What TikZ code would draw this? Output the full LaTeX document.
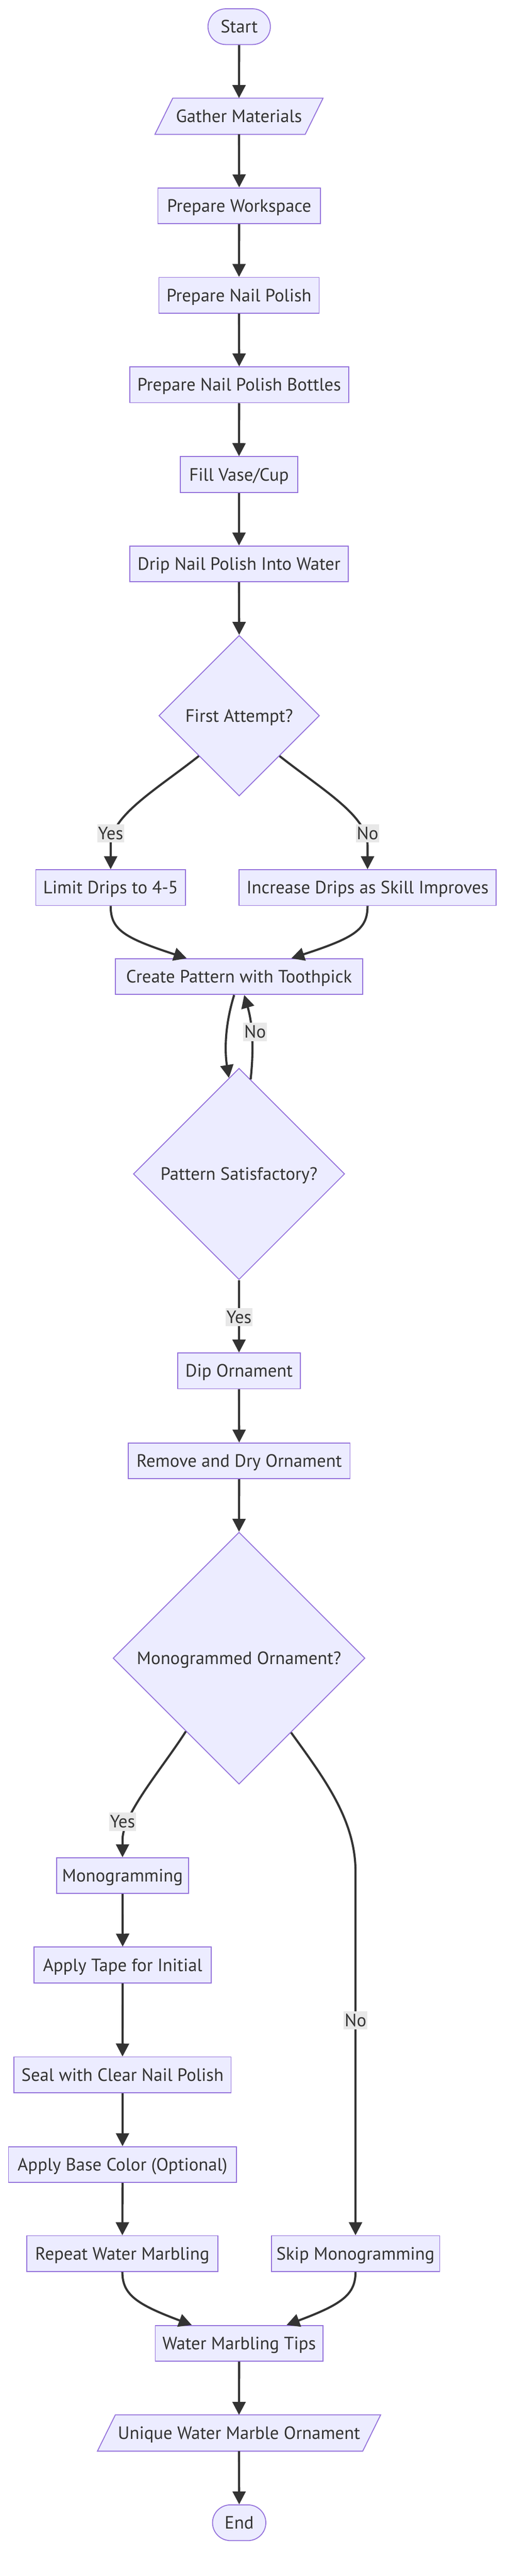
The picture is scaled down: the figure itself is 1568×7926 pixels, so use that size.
\documentclass[tikz,border=0pt]{standalone}
\usepackage{fontspec}
\setmainfont{PT Sans}
\usetikzlibrary{shapes.geometric,arrows.meta,calc}
\pgfdeclarelayer{bg}
\pgfsetlayers{bg,main}
\definecolor{nodefill}{HTML}{ECECFF}
\definecolor{nodeline}{HTML}{9370DB}
\definecolor{ink}{HTML}{333333}
\definecolor{lblbg}{HTML}{E8E8E8}
\tikzset{
  box/.style={rectangle, draw=nodeline, fill=nodefill, line width=2.8pt, minimum height=110pt, inner sep=0pt, text height=38pt, text depth=0pt},
  term/.style={box, rounded corners=55pt},
  dec/.style={diamond, aspect=1, draw=nodeline, fill=nodefill, line width=2.8pt, inner sep=0pt, text height=38pt, text depth=0pt},
  io/.style={rectangle, minimum height=111pt, inner sep=0pt, text height=38pt, text depth=0pt},
  iobg/.style={draw=nodeline, fill=nodefill, line width=2.8pt, line join=miter},
  flow/.style={draw=ink, line width=6.5pt, -{Triangle[length=40pt,width=40pt]}},
  elabel/.style={fill=lblbg, inner xsep=3pt, inner ysep=0pt, minimum height=56pt, text height=38pt, text depth=0pt}
}
\begin{document}
\begin{tikzpicture}[x=1pt, y=-1pt, font=\fontsize{55}{66}\selectfont, text=ink]
\useasboundingbox (0,0) rectangle (1568,7926);
\begin{pgfonlayer}{bg}
\fill[white] (0,0) rectangle (1568,7926);
\end{pgfonlayer}

\node[term, minimum width=192pt] (start) at (736,82) {Start};
\node[io, minimum width=462pt] (gather) at (735.5,357.5) {Gather Materials};
\node[box, minimum width=500pt] (ws) at (736,633) {Prepare Workspace};
\node[box, minimum width=493pt] (np) at (735.5,908.5) {Prepare Nail Polish};
\node[box, minimum width=674pt] (npb) at (736,1184) {Prepare Nail Polish Bottles};
\node[box, minimum width=361pt] (fill) at (735.5,1460) {Fill Vase/Cup};
\node[box, minimum width=671pt] (drip) at (735.5,1735) {Drip Nail Polish Into Water};
\node[dec, minimum size=494pt] (fa) at (736,2202) {First Attempt?};
\node[box, minimum width=461pt] (limit) at (340.5,2731) {Limit Drips to 4-5};
\node[box, minimum width=790pt] (inc) at (1131,2731) {Increase Drips as Skill Improves};
\node[box, minimum width=761pt] (create) at (735.5,3005) {Create Pattern with Toothpick};
\node[dec, minimum size=650pt] (ps) at (735.5,3612) {Pattern Satisfactory?};
\node[box, minimum width=377pt] (dip) at (735.5,4218) {Dip Ornament};
\node[box, minimum width=682pt] (remove) at (736,4495) {Remove and Dry Ornament};
\node[dec, minimum size=775pt] (mono) at (735.5,5102) {Monogrammed Ornament?};
\node[box, minimum width=406pt] (mg) at (377,5771) {Monogramming};
\node[box, minimum width=545pt] (tape) at (377.5,6046) {Apply Tape for Initial};
\node[box, minimum width=668pt] (seal) at (377,6384) {Seal with Clear Nail Polish};
\node[box, minimum width=702pt] (base) at (377,6660) {Apply Base Color (Optional)};
\node[box, minimum width=587pt] (repeat) at (376.5,6934) {Repeat Water Marbling};
\node[box, minimum width=518pt] (skip) at (1094,6934) {Skip Monogramming};
\node[box, minimum width=516pt] (tips) at (736,7210) {Water Marbling Tips};
\node[io, minimum width=816pt] (unique) at (735.5,7486) {Unique Water Marble Ornament};
\node[term, minimum width=164pt] (end) at (736,7762) {End};

\begin{pgfonlayer}{bg}
\draw[iobg] ([xshift=-27.5pt]gather.south west) -- ([xshift=-27.5pt]gather.south east) -- ([xshift=27.5pt]gather.north east) -- ([xshift=27.5pt]gather.north west) -- cycle;
\draw[iobg] ([xshift=-27.5pt]unique.south west) -- ([xshift=-27.5pt]unique.south east) -- ([xshift=27.5pt]unique.north east) -- ([xshift=27.5pt]unique.north west) -- cycle;
\end{pgfonlayer}

\draw[flow] (start.south) -- (gather.north);
\draw[flow] (gather.south) -- (ws.north);
\draw[flow] (ws.south) -- (np.north);
\draw[flow] (np.south) -- (npb.north);
\draw[flow] (npb.south) -- (fill.north);
\draw[flow] (fill.south) -- (drip.north);
\draw[flow] (drip.south) -- (fa.north);

\draw[flow] (fa.south west) .. controls (480,2430) and (340.5,2510) .. (340.5,2600) -- (limit.north);
\draw[flow] (fa.south east) .. controls (992,2430) and (1131,2510) .. (1131,2600) -- (inc.north);
\node[elabel] (lyes1) at (340.5,2564) {Yes};
\node[elabel] (lno1) at (1131,2564) {No};

\draw[flow] (limit.south) .. controls (340.5,2860) and (380,2885) .. ([xshift=-161pt]create.north);
\draw[flow] (inc.south) .. controls (1131,2860) and (1091,2885) .. ([xshift=161pt]create.north);

\draw[flow] ([xshift=-15pt]create.south) .. controls (690,3160) and (692,3240) .. (ps.96.3);
\draw[flow] (ps.83.3) .. controls (780,3240) and (780,3160) .. ([xshift=16pt]create.south);
\node[elabel] (lno2) at (785,3175) {No};

\draw[flow] (ps.south) -- (dip.north);
\node[elabel] (lyes2) at (735.5,4052) {Yes};
\draw[flow] (dip.south) -- (remove.north);
\draw[flow] (remove.south) -- (mono.north);

\draw[flow] (mono.234.85) .. controls (500,5440) and (378,5580) .. (377,5660) -- (mg.north);
\node[elabel] (lyes3) at (377,5605) {Yes};
\draw[flow] (mono.305.5) .. controls (1000,5475) and (1094,5600) .. (1094,5760) -- (skip.north);
\node[elabel] (lno3) at (1094,6216) {No};

\draw[flow] (mg.south) -- (tape.north);
\draw[flow] (tape.south) -- (seal.north);
\draw[flow] (seal.south) -- (base.north);
\draw[flow] (base.south) -- (repeat.north);

\draw[flow] (repeat.south) .. controls (376.5,7060) and (420,7090) .. ([xshift=-146pt]tips.north);
\draw[flow] (skip.south) .. controls (1094,7060) and (1052,7090) .. ([xshift=146pt]tips.north);
\draw[flow] (tips.south) -- (unique.north);
\draw[flow] (unique.south) -- (end.north);
\end{tikzpicture}
\end{document}
